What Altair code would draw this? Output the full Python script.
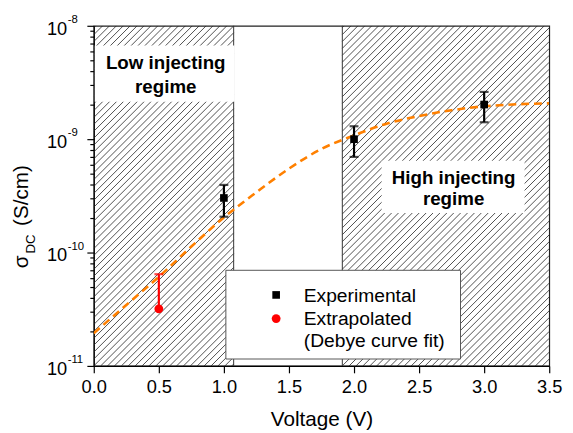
import math
import altair as alt
import pandas as pd

# ---------------- data ----------------
exp_voltage = [1.0, 2.0, 3.0]
exp_sigma = [3.03e-10, 1.0e-9, 2.02e-9]
exp_err_lo = [2.07e-10, 6.97e-10, 1.41e-9]
exp_err_hi = [3.95e-10, 1.30e-9, 2.61e-9]

ext_voltage = [0.5]
ext_sigma = [3.19e-11]
ext_err_hi = [6.44e-11]

fit_voltage = [0.0, 0.25, 0.5, 0.75, 1.0, 1.25, 1.5, 1.75, 2.0, 2.25, 2.5, 2.75, 3.0, 3.25, 3.5]
fit_sigma = [1.94e-11, 3.45e-11, 6.1e-11, 1.13e-10, 2.04e-10, 3.4e-10, 5.5e-10, 8.2e-10,
             1.08e-9, 1.37e-9, 1.6e-9, 1.8e-9, 1.95e-9, 2.03e-9, 2.07e-9]

regime_x_start = [0.0, 1.91]
regime_x_end = [1.075, 3.5]

x_ticks = [i * 0.25 for i in range(15)]
y_major = [1e-11, 1e-10, 1e-9, 1e-8]
y_exponents = ["-11", "-10", "-9", "-8"]
y_ticks = [m * 10.0 ** e for e in (-11, -10, -9) for m in range(1, 10)] + [1e-8]

X_DOMAIN = [0, 3.5]
Y_DOMAIN = [1e-11, 1e-8]
W, H = 462, 345
FONT = "Liberation Sans"

# ---------------- hatch pattern (45 degree "/" lines in pixel space) ----------------
k = (W / 3.5) / (H / 3.0)      # decades per volt for a 45 degree line
dc = 7.0 / (W / 3.5)            # horizontal spacing of hatch lines in volts
hatch_rows = []
for xa, xb in zip(regime_x_start, regime_x_end):
    n0 = math.floor((xa - 3.0 / k) / dc)
    n1 = math.ceil(xb / dc)
    for n in range(n0, n1 + 1):
        c = n * dc
        x1 = max(xa, c)
        x2 = min(xb, c + 3.0 / k)
        if x2 > x1:
            hatch_rows.append({"hx": x1, "hy": 10 ** (-11 + (x1 - c) * k),
                               "hx2": x2, "hy2": 10 ** (-11 + (x2 - c) * k)})
hatch_df = pd.DataFrame(hatch_rows)

xs = alt.Scale(domain=X_DOMAIN, nice=False, zero=False)
ys = alt.Scale(type="log", domain=Y_DOMAIN, nice=False)

major_test_y = "abs(log(datum.value)/LN10 - round(log(datum.value)/LN10)) < 0.01"
major_test_x = "abs(datum.value*2 - round(datum.value*2)) < 0.01"

x_axis = alt.Axis(values=x_ticks, title="Voltage (V)", grid=False,
                  labelExpr=f"{major_test_x} ? format(datum.value, '.1f') : ''",
                  labelOverlap=False, labelFlush=False,
                  tickSize={"condition": {"test": major_test_x, "value": 7}, "value": 4},
                  labelPadding=5, titlePadding=13)
y_axis = alt.Axis(values=y_ticks, title=None, grid=False, labels=False,
                  tickSize={"condition": {"test": major_test_y, "value": 7}, "value": 4})

hatch = alt.Chart(hatch_df).mark_rule(color="#222", strokeWidth=0.8, clip=True).encode(
    x=alt.X("hx:Q", scale=xs, axis=x_axis),
    y=alt.Y("hy:Q", scale=ys, axis=y_axis),
    x2="hx2:Q", y2="hy2:Q")

borders_df = pd.DataFrame({"x": [regime_x_end[0], regime_x_start[1]]})
borders = alt.Chart(borders_df).mark_rule(color="#333", strokeWidth=1).encode(
    x="x:Q", y=alt.value(0), y2=alt.value(H))

def white_box(x0, x1, y0, y1, stroke=None):
    kw = {"fill": "white"}
    if stroke:
        kw.update(stroke=stroke, strokeWidth=1)
    return alt.Chart(pd.DataFrame({"a": [0]})).mark_rect(**kw).encode(
        x=alt.value(x0), x2=alt.value(x1), y=alt.value(y0), y2=alt.value(y1))

low_box = white_box(1, 143, 20, 77)
high_box = white_box(292, 437, 137, 190)
legend_box = white_box(134, 372, 248, 338, stroke="#555")

def text_at(txt, x, y, size=19, weight="bold", align="center", angle=None, color="black"):
    kw = dict(font=FONT, fontSize=size, fontWeight=weight, align=align,
              baseline="alphabetic", color=color)
    if angle is not None:
        kw["angle"] = angle
    return alt.Chart(pd.DataFrame({"t": [txt]})).mark_text(**kw).encode(
        x=alt.value(x), y=alt.value(y), text="t:N")

low_t1 = text_at("Low injecting", 73, 44)
low_t2 = text_at("regime", 73, 68)
high_t1 = text_at("High injecting", 365, 160)
high_t2 = text_at("regime", 365, 182)

curve = alt.Chart(pd.DataFrame({"v": fit_voltage, "s": fit_sigma})).mark_line(
    color="#FF8000", strokeWidth=2.6, strokeDash=[8, 5], interpolate="monotone", clip=True
).encode(x="v:Q", y="s:Q")

exp_df = pd.DataFrame({"v": exp_voltage, "s": exp_sigma, "lo": exp_err_lo, "hi": exp_err_hi})
exp_bar = alt.Chart(exp_df).mark_rule(color="black", strokeWidth=2.2).encode(
    x="v:Q", y="lo:Q", y2="hi:Q")
exp_cap_lo = alt.Chart(exp_df).mark_tick(color="black", orient="horizontal", size=9, thickness=2.2).encode(
    x="v:Q", y="lo:Q")
exp_cap_hi = alt.Chart(exp_df).mark_tick(color="black", orient="horizontal", size=9, thickness=2.2).encode(
    x="v:Q", y="hi:Q")
exp_pts = alt.Chart(exp_df).mark_point(shape="square", filled=True, size=60, color="black", opacity=1).encode(
    x="v:Q", y="s:Q")

ext_df = pd.DataFrame({"v": ext_voltage, "s": ext_sigma, "hi": ext_err_hi})
ext_bar = alt.Chart(ext_df).mark_rule(color="#FF0000", strokeWidth=2.2).encode(
    x="v:Q", y="s:Q", y2="hi:Q")
ext_cap = alt.Chart(ext_df).mark_tick(color="#FF0000", orient="horizontal", size=9, thickness=2.2).encode(
    x="v:Q", y="hi:Q")
ext_pts = alt.Chart(ext_df).mark_circle(size=80, color="#FF0000", opacity=1).encode(
    x="v:Q", y="s:Q")

# legend (manual)
leg_sq = alt.Chart(pd.DataFrame({"a": [0]})).mark_point(shape="square", filled=True, size=60,
                                                       color="black", opacity=1).encode(
    x=alt.value(185), y=alt.value(273))
leg_ci = alt.Chart(pd.DataFrame({"a": [0]})).mark_circle(size=80, color="#FF0000", opacity=1).encode(
    x=alt.value(185), y=alt.value(297))
leg_t1 = text_at("Experimental", 213, 280, size=19.5, weight="normal", align="left")
leg_t2 = text_at("Extrapolated", 213, 303, size=19.5, weight="normal", align="left")
leg_t3 = text_at("(Debye curve fit)", 213, 326, size=19.5, weight="normal", align="left")

# y tick labels with superscript exponents
ylab_df = pd.DataFrame({"v": y_major, "e": y_exponents, "b": ["10"] * len(y_major)})
ylab_base = alt.Chart(ylab_df).mark_text(font=FONT, fontSize=18.5, align="right",
                                         baseline="alphabetic", dy=9, color="black").encode(
    x=alt.value(-27), y="v:Q", text="b:N")
ylab_exp = alt.Chart(ylab_df).mark_text(font=FONT, fontSize=11.5, align="left",
                                        baseline="alphabetic", dy=-3, color="black").encode(
    x=alt.value(-26.5), y="v:Q", text="e:N")

# y axis title: sigma_DC (S/cm)
yt_sigma = text_at("σ", -67, 246, size=21, weight="normal", align="left", angle=270)
yt_sub = text_at("DC", -60, 231, size=13.5, weight="normal", align="left", angle=270)
yt_unit = text_at("(S/cm)", -67, 203, size=21, weight="normal", align="left", angle=270)

chart = alt.layer(
    hatch, borders, low_box, high_box, legend_box,
    low_t1, low_t2, high_t1, high_t2,
    curve, exp_bar, exp_cap_lo, exp_cap_hi, exp_pts,
    ext_bar, ext_cap, ext_pts,
    leg_sq, leg_ci, leg_t1, leg_t2, leg_t3,
    ylab_base, ylab_exp, yt_sigma, yt_sub, yt_unit,
).properties(
    width=W, height=H,
    autosize=alt.AutoSizeParams(type="none"),
    padding={"left": 87, "top": 15, "right": 16, "bottom": 65},
).configure_view(stroke="#222", strokeWidth=1.2).configure_axis(
    domainColor="black", domainWidth=1.2, tickColor="black", tickWidth=1.2,
    labelFont=FONT, labelFontSize=18.5, labelColor="black",
    titleFont=FONT, titleFontSize=21, titleFontWeight="normal", titleColor="black",
)

chart.save("out.html", embed_options={"renderer": "svg", "actions": False})
